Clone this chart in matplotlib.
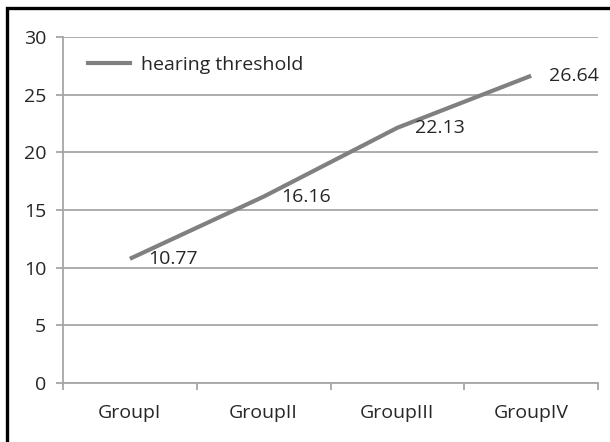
import matplotlib
matplotlib.use("Agg")
import matplotlib.pyplot as plt
from matplotlib.patches import Rectangle
from matplotlib.lines import Line2D

categories = ["GroupI", "GroupII", "GroupIII", "GroupIV"]
values = [10.77, 16.16, 22.13, 26.64]
value_labels = ["10.77", "16.16", "22.13", "26.64"]
series_name = "hearing threshold"
yticks = [0, 5, 10, 15, 20, 25, 30]

plt.rcParams['font.family'] = ['Open Sans', 'DejaVu Sans']

W, H = 610, 442
fig = plt.figure(figsize=(W / 100, H / 100), dpi=100)
ax = fig.add_axes([63 / W, 1 - 383 / H, (598 - 63) / W, (383 - 37) / H])

grid_c = "#a6a6a6"
line_c = "#808080"
text_c = "#262626"
fs = 14

x = [i + 0.5 for i in range(len(categories))]
ax.plot(x, values, color=line_c, lw=3, solid_capstyle="butt", zorder=3)
for xi, v, lab in zip(x, values, value_labels):
    ax.annotate(lab, (xi, v), xytext=(13, 0), textcoords="offset points",
                ha="left", va="center", fontsize=fs, color=text_c)

ax.set_xlim(0, len(categories))
ax.set_ylim(0, 30)
ax.set_yticks(yticks)
ax.set_yticklabels([str(t) for t in yticks])
ax.yaxis.grid(True, color=grid_c, lw=1.3)
ax.set_axisbelow(True)
ax.set_xticks(range(len(categories) + 1))
ax.set_xticklabels([])
ax.set_xticks(x, minor=True)
ax.set_xticklabels(categories, minor=True)
ax.tick_params(axis="x", which="minor", length=0, pad=15, labelsize=fs, labelcolor=text_c)
ax.tick_params(axis="x", which="major", length=5, color=grid_c, width=1.3)
ax.tick_params(axis="y", length=5, color=grid_c, width=1.3, labelsize=fs, labelcolor=text_c, pad=7)
for s in ["top", "right"]:
    ax.spines[s].set_visible(False)
for s in ["left", "bottom"]:
    ax.spines[s].set_color(grid_c)
    ax.spines[s].set_linewidth(1.3)

ax.legend(handles=[Line2D([0], [0], color=line_c, lw=3)], labels=[series_name],
          loc="upper left", bbox_to_anchor=(7 / 535, 0.995), frameon=False,
          fontsize=fs, handlelength=2.2, handletextpad=0.55, labelcolor=text_c)

fig.patches.append(Rectangle((7 / W, -0.1), 1.2, 1 - 7.5 / H + 0.1, transform=fig.transFigure,
                             fill=False, edgecolor="black", lw=2.4))

fig.savefig("out.png", dpi=100, facecolor="white")
